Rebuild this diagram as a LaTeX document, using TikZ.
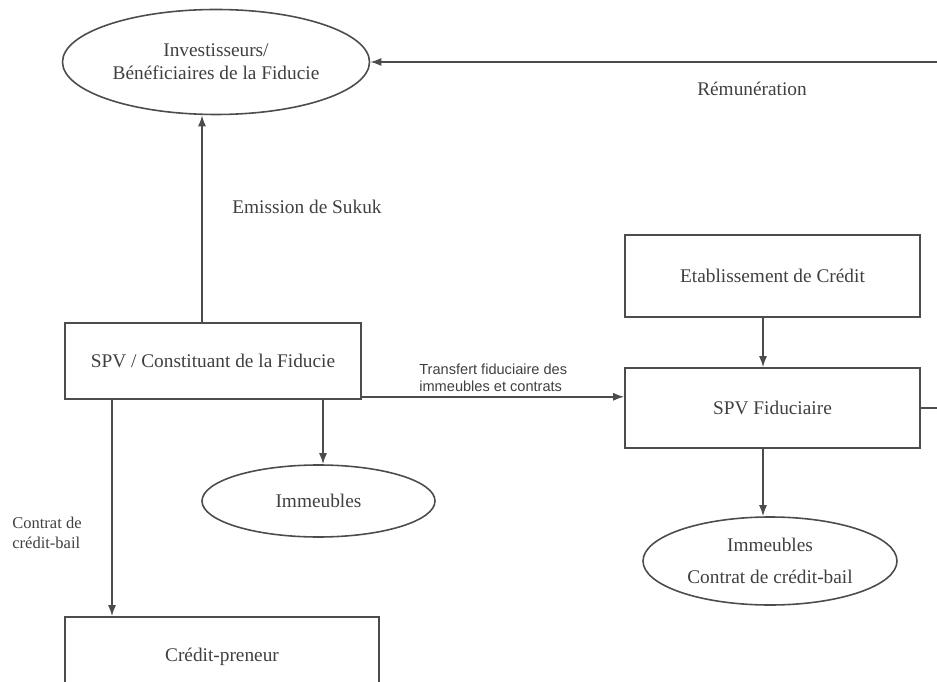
\documentclass[tikz,border=0pt]{standalone}
\usepackage{fontspec}
\setmainfont{Liberation Serif}
\setsansfont{Liberation Sans}
\usetikzlibrary{shapes.geometric,arrows.meta}
\begin{document}
\begin{tikzpicture}[every node/.style={text=black!75, font=\fontsize{11}{13}\selectfont},
        box/.style={draw=black!70, line width=0.9pt, rectangle, inner sep=0pt},
        oval/.style={draw=black!70, line width=0.9pt, ellipse, inner sep=0pt},
        arr/.style={draw=black!70, line width=0.9pt, -{Latex[length=2.2mm,width=1.6mm]}},
        small/.style={font=\sffamily\fontsize{8.3}{9.5}\selectfont, align=left, inner sep=0pt}]
            \useasboundingbox (0,0) rectangle (18.74,13.62);
            \clip (0,0) rectangle (18.74,13.62);

            \node (inv) at (4.32,12.38) [oval, minimum width=6.14cm, minimum height=2.1cm, align=center] {Investisseurs/\\Bénéficiaires de la Fiducie};
            \node (spv) at (4.26,6.4) [box, minimum width=5.92cm, minimum height=1.52cm] {SPV / Constituant de la Fiducie};
            \node (imm) at (6.37,3.6) [oval, minimum width=4.66cm, minimum height=1.44cm] {Immeubles};
            \node (cp) at (4.44,0.48) [box, minimum width=6.28cm, minimum height=1.6cm] {Crédit-preneur};

            \node (etab) at (15.45,8.10) [box, minimum width=5.9cm, minimum height=1.64cm] {Etablissement de Crédit};
            \node (fid) at (15.45,5.46) [box, minimum width=5.9cm, minimum height=1.6cm] {SPV Fiduciaire};
            \node (immc) at (15.4,2.4) [oval, minimum width=5.08cm, minimum height=1.76cm, align=center] {Immeubles\\[5pt]Contrat de crédit-bail};

            \node (remu) at (15.04,11.84) {Rémunération};
            \node (emis) at (4.64,9.48) [anchor=west, inner sep=0pt] {Emission de Sukuk};
            \node (transf) at (8.38,6.06) [anchor=west, small] {Transfert fiduciaire des\\immeubles et contrats};
            \node (cbail) at (0.24,2.96) [anchor=west, font=\fontsize{9.4}{11.4}\selectfont, align=left, inner sep=0pt] {Contrat de\\crédit-bail};

            \coordinate (spvup) at ([xshift=-0.22cm]spv.north);
            \coordinate (spvimm) at ([xshift=2.2cm]spv.south);
            \coordinate (spvcb) at ([xshift=-2.02cm]spv.south);
            \coordinate (spvtr) at ([yshift=0.06cm]spv.south east);
            \coordinate (etabdn) at ([xshift=-0.19cm]etab.south);
            \coordinate (fiddn) at ([xshift=-0.19cm]fid.south);
            \coordinate (rbend) at (19.3,9);

            \draw[arr] (spvup) -- (spvup |- inv.south);
            \draw[arr] (spvimm) -- (spvimm |- imm.north);
            \draw[arr] (spvcb) -- (spvcb |- cp.north);
            \draw[arr] (spvtr) -- (spvtr -| fid.west);
            \draw[arr] (etabdn) -- (etabdn |- fid.north);
            \draw[arr] (fiddn) -- (fiddn |- immc.north);
            \draw[arr] (fid.east) -| (rbend) |- (inv.east);
        \end{tikzpicture}
\end{document}
